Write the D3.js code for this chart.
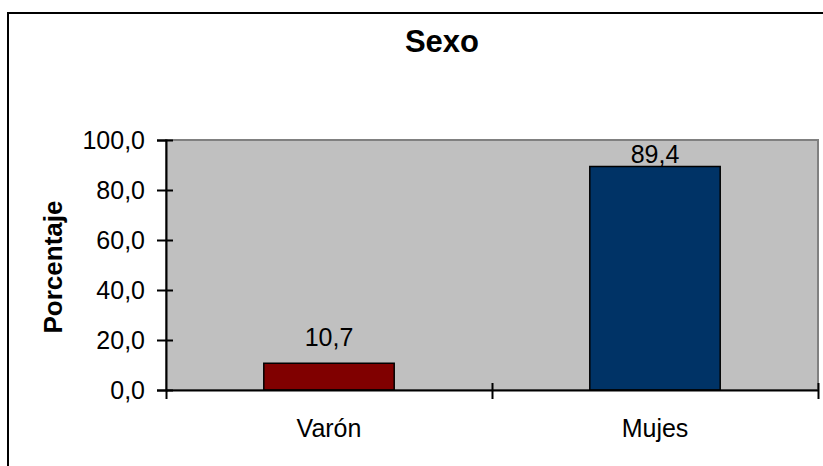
<!DOCTYPE html>
<html>
<head>
<meta charset="utf-8">
<script src="https://cdn.jsdelivr.net/npm/d3@7"></script>
<style>
  body { margin: 0; background: #fff; }
  text { font-family: Arial, "Liberation Sans", sans-serif; }
</style>
</head>
<body>
<div class="chart"></div>
<script>
var categories = ['Varón', 'Mujes'];
var values = [10.7, 89.4];
var colors = ['#800000', '#003366'];
var yTicks = [0, 20, 40, 60, 80, 100];

var size = { width: 823, height: 466 };
var plot = { left: 166, top: 140, right: 818, bottom: 390 };

var svg = d3.select('.chart')
            .append('svg')
            .attr('width', size.width)
            .attr('height', size.height);

// outer chart frame (runs past the right and bottom edges)
svg.append('rect')
   .attr('x', 8).attr('y', 13)
   .attr('width', 840).attr('height', 480)
   .attr('fill', '#fff')
   .attr('stroke', '#000')
   .attr('stroke-width', 2);

var x = d3.scaleBand()
          .domain(categories)
          .range([plot.left, plot.right])
          .paddingInner(0)
          .paddingOuter(0);

var y = d3.scaleLinear()
          .domain([0, 100])
          .range([plot.bottom, plot.top]);

// plot area
svg.append('rect')
   .attr('x', plot.left).attr('y', plot.top)
   .attr('width', plot.right - plot.left)
   .attr('height', plot.bottom - plot.top)
   .attr('fill', '#c0c0c0')
   .attr('stroke', '#808080')
   .attr('stroke-width', 2);

// bars: 40% of band width, centred
var barW = x.bandwidth() * 0.4;
svg.selectAll('rect.bar')
   .data(values)
   .enter()
   .append('rect')
   .attr('class', 'bar')
   .attr('x', function(d, i) { return x(categories[i]) + (x.bandwidth() - barW) / 2; })
   .attr('y', function(d) { return y(d); })
   .attr('width', barW)
   .attr('height', function(d) { return y(0) - y(d); })
   .attr('fill', function(d, i) { return colors[i]; })
   .attr('stroke', '#000')
   .attr('stroke-width', 1.5);

var fmt = function(v) { return d3.format('.1f')(v).replace('.', ','); };

// y axis: outer ticks with labels, plus inner half of the cross ticks
var yAxis = svg.append('g')
   .attr('transform', 'translate(' + plot.left + ',0)')
   .call(d3.axisLeft(y).tickValues(yTicks).tickSize(9).tickPadding(12).tickFormat(fmt));
svg.append('g')
   .attr('transform', 'translate(' + plot.left + ',0)')
   .call(d3.axisLeft(y).tickValues(yTicks).tickSize(-7).tickFormat(''))
   .select('.domain').remove();

// x axis: ticks at category boundaries
var bounds = [plot.left, plot.left + x.bandwidth(), plot.right];
var xb = d3.scaleLinear().domain([plot.left, plot.right]).range([plot.left, plot.right]);
svg.append('g')
   .attr('transform', 'translate(0,' + plot.bottom + ')')
   .call(d3.axisBottom(xb).tickValues(bounds).tickSize(9).tickSizeOuter(0).tickFormat(''));
svg.append('g')
   .attr('transform', 'translate(0,' + plot.bottom + ')')
   .call(d3.axisBottom(xb).tickValues(bounds.slice(1)).tickSize(-7).tickFormat(''))
   .select('.domain').remove();

// category labels
svg.selectAll('text.cat')
   .data(categories)
   .enter()
   .append('text')
   .attr('class', 'cat')
   .attr('x', function(d) { return x(d) + x.bandwidth() / 2; })
   .attr('y', plot.bottom + 47)
   .attr('text-anchor', 'middle')
   .attr('font-size', 25)
   .text(function(d) { return d; });

svg.selectAll('.domain, .tick line')
   .attr('stroke', '#000')
   .attr('stroke-width', 2);
yAxis.selectAll('.tick text')
   .attr('font-size', 25)
   .attr('fill', '#000')
   .style('font-family', 'Arial, "Liberation Sans", sans-serif');

// value labels (kept inside the plot area)
svg.selectAll('text.val')
   .data(values)
   .enter()
   .append('text')
   .attr('class', 'val')
   .attr('x', function(d, i) { return x(categories[i]) + x.bandwidth() / 2; })
   .attr('y', function(d) { return Math.max(y(d) - 17, plot.top + 23); })
   .attr('text-anchor', 'middle')
   .attr('font-size', 25)
   .text(function(d) { return fmt(d); });

// title
svg.append('text')
   .attr('x', 442).attr('y', 52)
   .attr('text-anchor', 'middle')
   .attr('font-size', 31)
   .attr('font-weight', 'bold')
   .text('Sexo');

// y axis title
svg.append('text')
   .attr('transform', 'translate(62,' + ((plot.top + plot.bottom) / 2 + 2) + ') rotate(-90)')
   .attr('text-anchor', 'middle')
   .attr('font-size', 26)
   .attr('font-weight', 'bold')
   .text('Porcentaje');
</script>
</body>
</html>
